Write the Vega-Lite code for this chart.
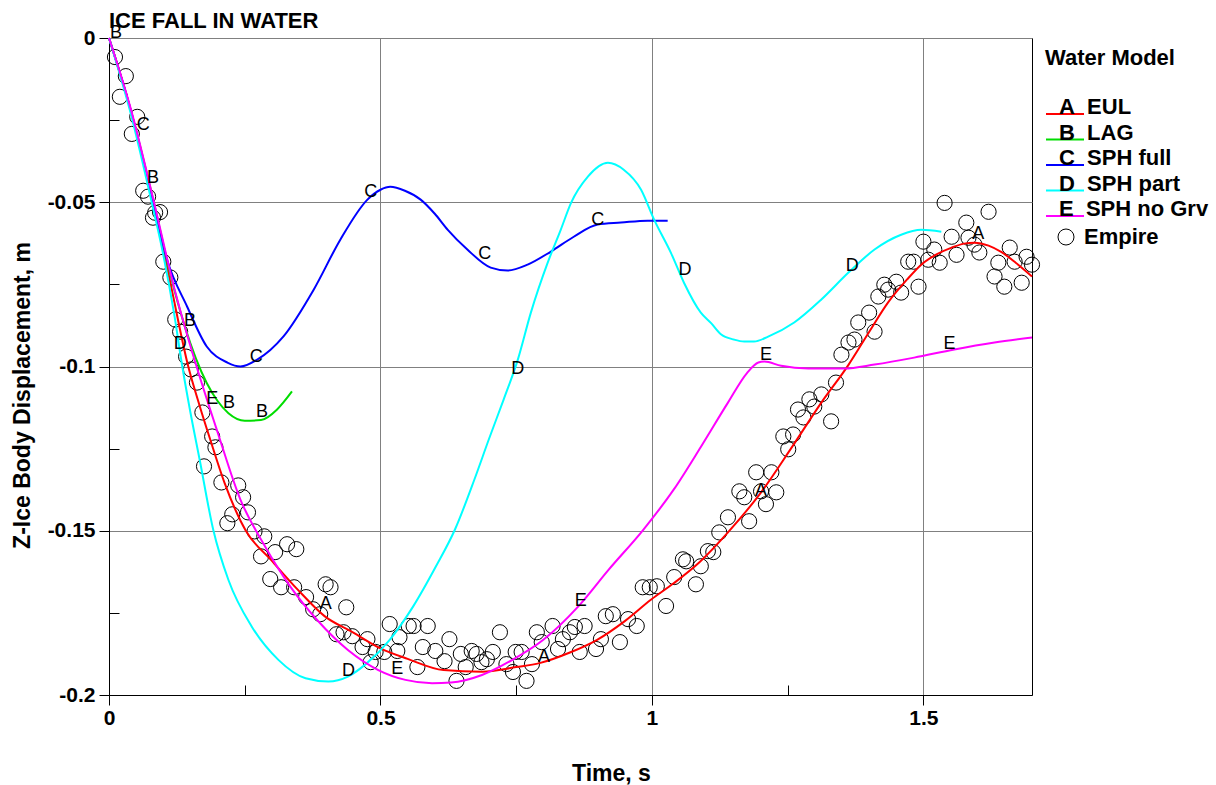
{
  "$schema": "https://vega.github.io/schema/vega-lite/v6.json",
  "width": 923,
  "height": 657,
  "autosize": {"type": "none"},
  "padding": {"left": 109, "top": 38, "right": 184, "bottom": 90},
  "background": "white",
  "title": {"text": "ICE FALL IN WATER", "anchor": "start", "frame": "group", "fontSize": 22, "fontWeight": "bold", "font": "Liberation Sans", "color": "#000", "offset": -26, "baseline": "alphabetic"},
  "config": {
    "view": {"stroke": "#000", "strokeWidth": 1},
    "axis": {"labelFont": "Liberation Sans", "titleFont": "Liberation Sans", "labelFontSize": 21, "labelFontWeight": "bold", "labelColor": "#000", "titleFontSize": 23, "titleFontWeight": "bold", "titleColor": "#000", "domainColor": "#000", "tickColor": "#000", "gridColor": "#808080", "gridOpacity": 1, "tickSize": 10, "labelFlush": false, "labelOverlap": false},
    "legend": {"labelFont": "Liberation Sans", "titleFont": "Liberation Sans"}
  },
  "resolve": {"axis": {"x": "independent", "y": "independent"}},
  "datasets": {
    "curves": [
      {"m":"EUL","t":0,"y":0},{"m":"EUL","t":0.04,"y":-0.022},{"m":"EUL","t":0.081,"y":-0.05},{"m":"EUL","t":0.113,"y":-0.0745},{"m":"EUL","t":0.146,"y":-0.1},{"m":"EUL","t":0.167,"y":-0.112},{"m":"EUL","t":0.186,"y":-0.122},{"m":"EUL","t":0.213,"y":-0.1355},{"m":"EUL","t":0.252,"y":-0.15},{"m":"EUL","t":0.298,"y":-0.1588},{"m":"EUL","t":0.348,"y":-0.168},{"m":"EUL","t":0.397,"y":-0.176},{"m":"EUL","t":0.45,"y":-0.181},{"m":"EUL","t":0.5,"y":-0.1858},{"m":"EUL","t":0.55,"y":-0.189},{"m":"EUL","t":0.616,"y":-0.1924},{"m":"EUL","t":0.687,"y":-0.1929},{"m":"EUL","t":0.75,"y":-0.1915},{"m":"EUL","t":0.793,"y":-0.1903},{"m":"EUL","t":0.85,"y":-0.187},{"m":"EUL","t":0.899,"y":-0.1832},{"m":"EUL","t":0.95,"y":-0.1775},{"m":"EUL","t":0.998,"y":-0.171},{"m":"EUL","t":1.04,"y":-0.166},{"m":"EUL","t":1.088,"y":-0.1595},{"m":"EUL","t":1.14,"y":-0.1505},{"m":"EUL","t":1.201,"y":-0.1383},{"m":"EUL","t":1.256,"y":-0.125},{"m":"EUL","t":1.312,"y":-0.111},{"m":"EUL","t":1.362,"y":-0.0995},{"m":"EUL","t":1.4,"y":-0.0895},{"m":"EUL","t":1.435,"y":-0.0805},{"m":"EUL","t":1.47,"y":-0.0735},{"m":"EUL","t":1.496,"y":-0.069},{"m":"EUL","t":1.525,"y":-0.0658},{"m":"EUL","t":1.552,"y":-0.0638},{"m":"EUL","t":1.575,"y":-0.0626},{"m":"EUL","t":1.594,"y":-0.0623},{"m":"EUL","t":1.62,"y":-0.0632},{"m":"EUL","t":1.644,"y":-0.0652},{"m":"EUL","t":1.67,"y":-0.0684},{"m":"EUL","t":1.7,"y":-0.0726},
      {"m":"LAG","t":0,"y":0},{"m":"LAG","t":0.04,"y":-0.022},{"m":"LAG","t":0.081,"y":-0.049},{"m":"LAG","t":0.113,"y":-0.072},{"m":"LAG","t":0.14,"y":-0.088},{"m":"LAG","t":0.16,"y":-0.0975},{"m":"LAG","t":0.18,"y":-0.105},{"m":"LAG","t":0.2,"y":-0.1105},{"m":"LAG","t":0.22,"y":-0.1142},{"m":"LAG","t":0.25,"y":-0.1165},{"m":"LAG","t":0.28,"y":-0.1163},{"m":"LAG","t":0.31,"y":-0.113},{"m":"LAG","t":0.337,"y":-0.1076},
      {"m":"SPH full","t":0,"y":0},{"m":"SPH full","t":0.04,"y":-0.022},{"m":"SPH full","t":0.081,"y":-0.05},{"m":"SPH full","t":0.107,"y":-0.0675},{"m":"SPH full","t":0.144,"y":-0.0818},{"m":"SPH full","t":0.18,"y":-0.0939},{"m":"SPH full","t":0.218,"y":-0.0988},{"m":"SPH full","t":0.242,"y":-0.1},{"m":"SPH full","t":0.273,"y":-0.0979},{"m":"SPH full","t":0.321,"y":-0.0909},{"m":"SPH full","t":0.377,"y":-0.0766},{"m":"SPH full","t":0.426,"y":-0.0614},{"m":"SPH full","t":0.476,"y":-0.0492},{"m":"SPH full","t":0.5,"y":-0.0462},{"m":"SPH full","t":0.518,"y":-0.0453},{"m":"SPH full","t":0.545,"y":-0.0465},{"m":"SPH full","t":0.574,"y":-0.0492},{"m":"SPH full","t":0.6,"y":-0.0535},{"m":"SPH full","t":0.624,"y":-0.0584},{"m":"SPH full","t":0.66,"y":-0.0644},{"m":"SPH full","t":0.703,"y":-0.0699},{"m":"SPH full","t":0.734,"y":-0.0708},{"m":"SPH full","t":0.771,"y":-0.069},{"m":"SPH full","t":0.814,"y":-0.065},{"m":"SPH full","t":0.856,"y":-0.0605},{"m":"SPH full","t":0.9,"y":-0.0568},{"m":"SPH full","t":0.943,"y":-0.0562},{"m":"SPH full","t":0.992,"y":-0.0556},{"m":"SPH full","t":1.029,"y":-0.0556},
      {"m":"SPH part","t":0,"y":0},{"m":"SPH part","t":0.04,"y":-0.023},{"m":"SPH part","t":0.08,"y":-0.051},{"m":"SPH part","t":0.1,"y":-0.066},{"m":"SPH part","t":0.12,"y":-0.084},{"m":"SPH part","t":0.135,"y":-0.1},{"m":"SPH part","t":0.15,"y":-0.114},{"m":"SPH part","t":0.167,"y":-0.1284},{"m":"SPH part","t":0.192,"y":-0.1497},{"m":"SPH part","t":0.22,"y":-0.165},{"m":"SPH part","t":0.263,"y":-0.1792},{"m":"SPH part","t":0.312,"y":-0.1893},{"m":"SPH part","t":0.362,"y":-0.1949},{"m":"SPH part","t":0.404,"y":-0.1959},{"m":"SPH part","t":0.44,"y":-0.1944},{"m":"SPH part","t":0.475,"y":-0.1903},{"m":"SPH part","t":0.517,"y":-0.1832},{"m":"SPH part","t":0.56,"y":-0.1731},{"m":"SPH part","t":0.602,"y":-0.1609},{"m":"SPH part","t":0.637,"y":-0.1497},{"m":"SPH part","t":0.673,"y":-0.1344},{"m":"SPH part","t":0.7,"y":-0.122},{"m":"SPH part","t":0.727,"y":-0.11},{"m":"SPH part","t":0.753,"y":-0.0979},{"m":"SPH part","t":0.777,"y":-0.0836},{"m":"SPH part","t":0.808,"y":-0.0684},{"m":"SPH part","t":0.832,"y":-0.0584},{"m":"SPH part","t":0.851,"y":-0.0502},{"m":"SPH part","t":0.882,"y":-0.0422},{"m":"SPH part","t":0.919,"y":-0.038},{"m":"SPH part","t":0.948,"y":-0.0401},{"m":"SPH part","t":0.98,"y":-0.0462},{"m":"SPH part","t":1.004,"y":-0.0553},{"m":"SPH part","t":1.035,"y":-0.0654},{"m":"SPH part","t":1.059,"y":-0.0745},{"m":"SPH part","t":1.09,"y":-0.0836},{"m":"SPH part","t":1.109,"y":-0.0868},{"m":"SPH part","t":1.127,"y":-0.0902},{"m":"SPH part","t":1.151,"y":-0.0918},{"m":"SPH part","t":1.17,"y":-0.0924},{"m":"SPH part","t":1.188,"y":-0.0924},{"m":"SPH part","t":1.214,"y":-0.0909},{"m":"SPH part","t":1.262,"y":-0.0866},{"m":"SPH part","t":1.312,"y":-0.0796},{"m":"SPH part","t":1.362,"y":-0.0714},{"m":"SPH part","t":1.41,"y":-0.0644},{"m":"SPH part","t":1.459,"y":-0.0599},{"m":"SPH part","t":1.496,"y":-0.0584},{"m":"SPH part","t":1.533,"y":-0.059},
      {"m":"SPH no Grv","t":0,"y":0},{"m":"SPH no Grv","t":0.04,"y":-0.0215},{"m":"SPH no Grv","t":0.08,"y":-0.048},{"m":"SPH no Grv","t":0.12,"y":-0.076},{"m":"SPH no Grv","t":0.165,"y":-0.102},{"m":"SPH no Grv","t":0.2,"y":-0.12},{"m":"SPH no Grv","t":0.242,"y":-0.1405},{"m":"SPH no Grv","t":0.284,"y":-0.1538},{"m":"SPH no Grv","t":0.334,"y":-0.167},{"m":"SPH no Grv","t":0.383,"y":-0.1771},{"m":"SPH no Grv","t":0.44,"y":-0.1863},{"m":"SPH no Grv","t":0.496,"y":-0.1924},{"m":"SPH no Grv","t":0.546,"y":-0.1954},{"m":"SPH no Grv","t":0.595,"y":-0.1964},{"m":"SPH no Grv","t":0.63,"y":-0.1962},{"m":"SPH no Grv","t":0.687,"y":-0.1939},{"m":"SPH no Grv","t":0.743,"y":-0.1893},{"m":"SPH no Grv","t":0.8,"y":-0.1832},{"m":"SPH no Grv","t":0.864,"y":-0.1731},{"m":"SPH no Grv","t":0.92,"y":-0.1619},{"m":"SPH no Grv","t":0.984,"y":-0.1497},{"m":"SPH no Grv","t":1.04,"y":-0.1375},{"m":"SPH no Grv","t":1.09,"y":-0.1245},{"m":"SPH no Grv","t":1.14,"y":-0.111},{"m":"SPH no Grv","t":1.175,"y":-0.102},{"m":"SPH no Grv","t":1.196,"y":-0.0988},{"m":"SPH no Grv","t":1.207,"y":-0.0985},{"m":"SPH no Grv","t":1.238,"y":-0.0998},{"m":"SPH no Grv","t":1.288,"y":-0.1006},{"m":"SPH no Grv","t":1.354,"y":-0.1006},{"m":"SPH no Grv","t":1.41,"y":-0.0994},{"m":"SPH no Grv","t":1.483,"y":-0.0973},{"m":"SPH no Grv","t":1.557,"y":-0.0948},{"m":"SPH no Grv","t":1.631,"y":-0.0927},{"m":"SPH no Grv","t":1.7,"y":-0.0912}
    ],
    "empire": [
      {"s":"Empire","t":0.011,"y":-0.0058},{"s":"Empire","t":0.031,"y":-0.0116},{"s":"Empire","t":0.02,"y":-0.0179},{"s":"Empire","t":0.052,"y":-0.024},{"s":"Empire","t":0.042,"y":-0.0292},{"s":"Empire","t":0.063,"y":-0.0465},{"s":"Empire","t":0.072,"y":-0.0483},{"s":"Empire","t":0.085,"y":-0.0532},{"s":"Empire","t":0.094,"y":-0.053},{"s":"Empire","t":0.081,"y":-0.0547},{"s":"Empire","t":0.1,"y":-0.0681},{"s":"Empire","t":0.113,"y":-0.0729},{"s":"Empire","t":0.122,"y":-0.0857},{"s":"Empire","t":0.131,"y":-0.0894},{"s":"Empire","t":0.142,"y":-0.097},{"s":"Empire","t":0.151,"y":-0.1009},{"s":"Empire","t":0.162,"y":-0.1049},{"s":"Empire","t":0.172,"y":-0.114},{"s":"Empire","t":0.19,"y":-0.1213},{"s":"Empire","t":0.196,"y":-0.1246},{"s":"Empire","t":0.175,"y":-0.1304},{"s":"Empire","t":0.207,"y":-0.1353},{"s":"Empire","t":0.238,"y":-0.1362},{"s":"Empire","t":0.247,"y":-0.1398},{"s":"Empire","t":0.256,"y":-0.1444},{"s":"Empire","t":0.227,"y":-0.145},{"s":"Empire","t":0.218,"y":-0.1477},{"s":"Empire","t":0.268,"y":-0.1502},{"s":"Empire","t":0.286,"y":-0.1517},{"s":"Empire","t":0.28,"y":-0.1578},{"s":"Empire","t":0.306,"y":-0.1565},{"s":"Empire","t":0.328,"y":-0.1541},{"s":"Empire","t":0.345,"y":-0.1556},{"s":"Empire","t":0.297,"y":-0.1647},{"s":"Empire","t":0.317,"y":-0.1672},{"s":"Empire","t":0.341,"y":-0.1672},{"s":"Empire","t":0.363,"y":-0.1702},{"s":"Empire","t":0.376,"y":-0.1739},{"s":"Empire","t":0.389,"y":-0.1754},{"s":"Empire","t":0.399,"y":-0.1663},{"s":"Empire","t":0.408,"y":-0.1672},{"s":"Empire","t":0.437,"y":-0.1733},{"s":"Empire","t":0.419,"y":-0.1815},{"s":"Empire","t":0.432,"y":-0.1809},{"s":"Empire","t":0.448,"y":-0.1821},{"s":"Empire","t":0.467,"y":-0.1854},{"s":"Empire","t":0.476,"y":-0.183},{"s":"Empire","t":0.491,"y":-0.1869},{"s":"Empire","t":0.507,"y":-0.1869},{"s":"Empire","t":0.482,"y":-0.19},{"s":"Empire","t":0.517,"y":-0.1784},{"s":"Empire","t":0.535,"y":-0.1824},{"s":"Empire","t":0.552,"y":-0.179},{"s":"Empire","t":0.561,"y":-0.179},{"s":"Empire","t":0.587,"y":-0.179},{"s":"Empire","t":0.531,"y":-0.1866},{"s":"Empire","t":0.568,"y":-0.1915},{"s":"Empire","t":0.578,"y":-0.1854},{"s":"Empire","t":0.601,"y":-0.1866},{"s":"Empire","t":0.618,"y":-0.1897},{"s":"Empire","t":0.627,"y":-0.183},{"s":"Empire","t":0.64,"y":-0.1957},{"s":"Empire","t":0.648,"y":-0.1875},{"s":"Empire","t":0.657,"y":-0.1915},{"s":"Empire","t":0.668,"y":-0.1866},{"s":"Empire","t":0.677,"y":-0.1875},{"s":"Empire","t":0.686,"y":-0.19},{"s":"Empire","t":0.696,"y":-0.1891},{"s":"Empire","t":0.707,"y":-0.1869},{"s":"Empire","t":0.72,"y":-0.1809},{"s":"Empire","t":0.732,"y":-0.1906},{"s":"Empire","t":0.744,"y":-0.193},{"s":"Empire","t":0.749,"y":-0.1869},{"s":"Empire","t":0.76,"y":-0.1869},{"s":"Empire","t":0.769,"y":-0.1957},{"s":"Empire","t":0.779,"y":-0.1906},{"s":"Empire","t":0.788,"y":-0.1809},{"s":"Empire","t":0.797,"y":-0.1839},{"s":"Empire","t":0.817,"y":-0.179},{"s":"Empire","t":0.827,"y":-0.186},{"s":"Empire","t":0.836,"y":-0.183},{"s":"Empire","t":0.849,"y":-0.1809},{"s":"Empire","t":0.858,"y":-0.1793},{"s":"Empire","t":0.867,"y":-0.1869},{"s":"Empire","t":0.876,"y":-0.179},{"s":"Empire","t":0.897,"y":-0.186},{"s":"Empire","t":0.906,"y":-0.183},{"s":"Empire","t":0.915,"y":-0.176},{"s":"Empire","t":0.928,"y":-0.1754},{"s":"Empire","t":0.941,"y":-0.1839},{"s":"Empire","t":0.956,"y":-0.1769},{"s":"Empire","t":0.972,"y":-0.179},{"s":"Empire","t":0.983,"y":-0.1672},{"s":"Empire","t":0.996,"y":-0.1672},{"s":"Empire","t":1.009,"y":-0.1669},{"s":"Empire","t":1.026,"y":-0.1729},{"s":"Empire","t":1.041,"y":-0.1641},{"s":"Empire","t":1.057,"y":-0.1587},{"s":"Empire","t":1.063,"y":-0.1593},{"s":"Empire","t":1.081,"y":-0.1663},{"s":"Empire","t":1.09,"y":-0.1608},{"s":"Empire","t":1.103,"y":-0.1562},{"s":"Empire","t":1.113,"y":-0.1565},{"s":"Empire","t":1.124,"y":-0.1505},{"s":"Empire","t":1.14,"y":-0.1459},{"s":"Empire","t":1.179,"y":-0.1471},{"s":"Empire","t":1.161,"y":-0.138},{"s":"Empire","t":1.17,"y":-0.1398},{"s":"Empire","t":1.192,"y":-0.1322},{"s":"Empire","t":1.22,"y":-0.1322},{"s":"Empire","t":1.201,"y":-0.138},{"s":"Empire","t":1.229,"y":-0.1383},{"s":"Empire","t":1.21,"y":-0.1419},{"s":"Empire","t":1.242,"y":-0.1213},{"s":"Empire","t":1.26,"y":-0.1207},{"s":"Empire","t":1.251,"y":-0.1252},{"s":"Empire","t":1.269,"y":-0.1131},{"s":"Empire","t":1.279,"y":-0.1155},{"s":"Empire","t":1.29,"y":-0.11},{"s":"Empire","t":1.299,"y":-0.1122},{"s":"Empire","t":1.312,"y":-0.1085},{"s":"Empire","t":1.339,"y":-0.1049},{"s":"Empire","t":1.33,"y":-0.1167},{"s":"Empire","t":1.349,"y":-0.0964},{"s":"Empire","t":1.362,"y":-0.0927},{"s":"Empire","t":1.373,"y":-0.0918},{"s":"Empire","t":1.38,"y":-0.0866},{"s":"Empire","t":1.4,"y":-0.0836},{"s":"Empire","t":1.41,"y":-0.0894},{"s":"Empire","t":1.417,"y":-0.0787},{"s":"Empire","t":1.428,"y":-0.0751},{"s":"Empire","t":1.435,"y":-0.0766},{"s":"Empire","t":1.45,"y":-0.0742},{"s":"Empire","t":1.459,"y":-0.0775},{"s":"Empire","t":1.472,"y":-0.0681},{"s":"Empire","t":1.482,"y":-0.0681},{"s":"Empire","t":1.491,"y":-0.0757},{"s":"Empire","t":1.5,"y":-0.062},{"s":"Empire","t":1.509,"y":-0.0675},{"s":"Empire","t":1.52,"y":-0.0644},{"s":"Empire","t":1.53,"y":-0.0684},{"s":"Empire","t":1.539,"y":-0.0502},{"s":"Empire","t":1.552,"y":-0.0605},{"s":"Empire","t":1.561,"y":-0.066},{"s":"Empire","t":1.579,"y":-0.0562},{"s":"Empire","t":1.583,"y":-0.0608},{"s":"Empire","t":1.594,"y":-0.0629},{"s":"Empire","t":1.603,"y":-0.0653},{"s":"Empire","t":1.62,"y":-0.0529},{"s":"Empire","t":1.638,"y":-0.0684},{"s":"Empire","t":1.631,"y":-0.0726},{"s":"Empire","t":1.649,"y":-0.0757},{"s":"Empire","t":1.659,"y":-0.0638},{"s":"Empire","t":1.668,"y":-0.0681},{"s":"Empire","t":1.681,"y":-0.0745},{"s":"Empire","t":1.69,"y":-0.0666},{"s":"Empire","t":1.7,"y":-0.069}
    ],
    "letters": [
      {"k":"B","t":0.013,"y":0.0015},{"k":"C","t":0.063,"y":-0.0264},{"k":"B","t":0.081,"y":-0.0426},{"k":"B","t":0.149,"y":-0.0863},{"k":"D","t":0.131,"y":-0.093},{"k":"C","t":0.271,"y":-0.097},{"k":"E","t":0.19,"y":-0.11},{"k":"B","t":0.221,"y":-0.1112},{"k":"B","t":0.282,"y":-0.114},{"k":"C","t":0.482,"y":-0.0468},{"k":"C","t":0.692,"y":-0.0657},{"k":"C","t":0.9,"y":-0.0553},{"k":"D","t":1.061,"y":-0.0705},{"k":"D","t":1.369,"y":-0.0693},{"k":"D","t":0.753,"y":-0.1009},{"k":"E","t":1.21,"y":-0.0964},{"k":"E","t":1.548,"y":-0.093},{"k":"A","t":1.601,"y":-0.0596},{"k":"A","t":0.399,"y":-0.1723},{"k":"A","t":0.801,"y":-0.1884},{"k":"A","t":1.201,"y":-0.138},{"k":"E","t":0.869,"y":-0.1714},{"k":"E","t":0.531,"y":-0.1921},{"k":"D","t":0.441,"y":-0.1927}
    ]
  },
  "layer": [
    {
      "data": {"name": "empire"},
      "mark": {"type": "point", "filled": false, "size": 230, "stroke": "#000", "strokeWidth": 1, "opacity": 1},
      "encoding": {
        "x": {"field": "t", "type": "quantitative", "scale": {"domain": [0, 1.7], "nice": false, "zero": false},
              "axis": {"orient": "bottom", "values": [0, 0.5, 1, 1.5], "grid": true, "title": "Time, s", "titleX": 502, "titleY": 78, "titleBaseline": "middle", "labelPadding": 2, "labelExpr": "toString(datum.value)"}},
        "y": {"field": "y", "type": "quantitative", "scale": {"domain": [-0.2, 0], "nice": false, "zero": false},
              "axis": {"orient": "left", "values": [0, -0.05, -0.1, -0.15, -0.2], "grid": true, "title": "Z-Ice Body Displacement, m", "titleX": -87, "titleY": 357, "titleBaseline": "middle", "titleAngle": -90, "labelPadding": 4, "labelExpr": "toString(datum.value)"}},
        "shape": {"field": "s", "type": "nominal", "scale": {"range": ["circle"]},
                  "legend": {"orient": "none", "legendX": 946, "legendY": 188, "title": null, "symbolSize": 256, "symbolStrokeColor": "#000", "symbolFillColor": "transparent", "symbolStrokeWidth": 1, "labelFontSize": 22, "labelFontWeight": "bold", "labelColor": "#000", "labelOffset": 7}}
      }
    },
    {
      "data": {"name": "curves"},
      "mark": {"type": "line", "strokeWidth": 2, "interpolate": "monotone"},
      "encoding": {
        "x": {"field": "t", "type": "quantitative", "axis": null},
        "y": {"field": "y", "type": "quantitative", "axis": null},
        "color": {"field": "m", "type": "nominal",
                  "scale": {"domain": ["EUL", "LAG", "SPH full", "SPH part", "SPH no Grv"], "range": ["#ff0000", "#00dd00", "#0000ff", "#00ffff", "#ff00ff"]},
                  "legend": {"orient": "none", "legendX": 936, "legendY": 10, "title": "Water Model", "titleFontSize": 22, "titleFontWeight": "bold", "titleColor": "#000", "titlePadding": 24, "symbolType": "stroke", "symbolSize": 1444, "symbolStrokeWidth": 2, "labelFontSize": 22, "labelFontWeight": "bold", "labelColor": "#000", "labelOffset": -26, "labelBaseline": "alphabetic", "rowPadding": 1.5,
                             "labelExpr": "['A','B','C','D','E'][indexof(['EUL','LAG','SPH full','SPH part','SPH no Grv'], datum.label)] + '\u00a0\u00a0' + datum.label"}}
      }
    },
    {
      "data": {"name": "letters"},
      "mark": {"type": "text", "font": "Liberation Sans", "fontSize": 18, "color": "#000", "align": "center", "baseline": "middle"},
      "encoding": {
        "x": {"field": "t", "type": "quantitative",
              "axis": {"orient": "bottom", "values": [0.25, 0.75, 1.25], "tickSize": -10, "labels": false, "domain": false, "grid": false, "title": null}},
        "y": {"field": "y", "type": "quantitative",
              "axis": {"orient": "left", "values": [-0.025, -0.075, -0.125, -0.175], "tickSize": -10, "labels": false, "domain": false, "grid": false, "title": null}},
        "text": {"field": "k", "type": "nominal"}
      }
    }
  ]
}
